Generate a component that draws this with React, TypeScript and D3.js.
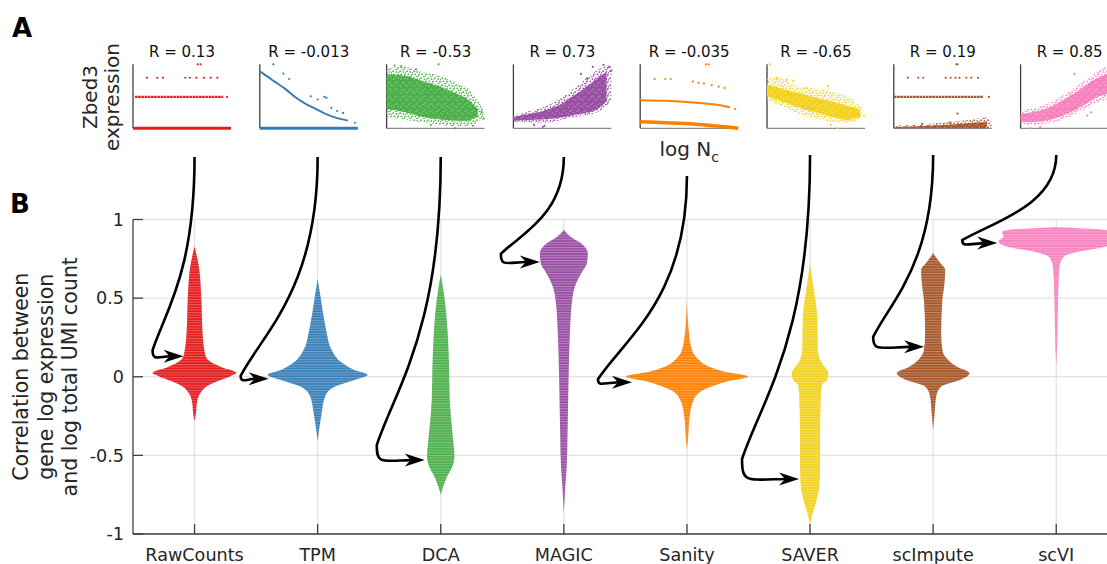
import React from 'react';
import * as d3 from 'd3';

// ---------- DATA ----------
const methods = ['RawCounts', 'TPM', 'DCA', 'MAGIC', 'Sanity', 'SAVER', 'scImpute', 'scVI'];
const colors = ['#e41a1c', '#377eb8', '#4daf4a', '#984ea3', '#ff7f00', '#f2d21f', '#a65628', '#f781bf'];
const rValues = [0.13, -0.013, -0.53, 0.73, -0.035, -0.65, 0.19, 0.85];
const rLabels = ['0.13', '-0.013', '-0.53', '0.73', '-0.035', '-0.65', '0.19', '0.85'];
const yTicks = [-1, -0.5, 0, 0.5, 1];
const yTickLabels = ['-1', '-0.5', '0', '0.5', '1'];

// violin profiles: [correlation, relative half-width]
const violinRawCounts = [[0.83, 0], [0.7, 0.07], [0.5, 0.11], [0.28, 0.13], [0.13, 0.18], [0.09, 0.28], [0.06, 0.44], [0.025, 0.68], [0.005, 0.59], [-0.03, 0.36], [-0.06, 0.2], [-0.1, 0.1], [-0.16, 0.04], [-0.24, 0.02], [-0.28, 0]];
const violinTPM = [[0.62, 0], [0.49, 0.054], [0.38, 0.098], [0.28, 0.146], [0.17, 0.228], [0.09, 0.39], [0.045, 0.585], [0.013, 0.813], [-0.02, 0.6], [-0.06, 0.29], [-0.125, 0.12], [-0.23, 0.065], [-0.36, 0.016], [-0.41, 0]];
const violinDCA = [[0.65, 0], [0.49, 0.065], [0.32, 0.106], [0.065, 0.135], [-0.146, 0.146], [-0.316, 0.179], [-0.44, 0.211], [-0.506, 0.223], [-0.57, 0.19], [-0.63, 0.109], [-0.697, 0.041], [-0.75, 0]];
const violinMAGIC = [[0.935, 0], [0.89, 0.109], [0.85, 0.272], [0.785, 0.39], [0.72, 0.374], [0.66, 0.285], [0.573, 0.179], [0.49, 0.135], [0.277, 0.098], [0.065, 0.081], [-0.146, 0.07], [-0.357, 0.06], [-0.57, 0.046], [-0.697, 0.024], [-0.865, 0]];
const violinSanity = [[0.49, 0], [0.277, 0.033], [0.17, 0.081], [0.108, 0.19], [0.065, 0.353], [0.034, 0.597], [0.002, 0.99], [-0.03, 0.65], [-0.083, 0.272], [-0.146, 0.109], [-0.25, 0.044], [-0.4, 0.016], [-0.46, 0]];
const violinSAVER = [[0.72, 0], [0.573, 0.054], [0.38, 0.117], [0.17, 0.127], [0.087, 0.19], [0.055, 0.252], [0.024, 0.298], [-0.02, 0.276], [-0.05, 0.195], [-0.146, 0.174], [-0.357, 0.163], [-0.57, 0.163], [-0.697, 0.151], [-0.78, 0.109], [-0.866, 0.044], [-0.94, 0]];
const violinScImpute = [[0.785, 0], [0.73, 0.102], [0.68, 0.195], [0.595, 0.184], [0.49, 0.15], [0.277, 0.13], [0.17, 0.15], [0.108, 0.239], [0.065, 0.379], [0.023, 0.59], [-0.02, 0.434], [-0.06, 0.135], [-0.125, 0.049], [-0.23, 0.024], [-0.336, 0]];
const violinScVI = [[0.95, 0], [0.935, 0.75], [0.923, 0.88], [0.89, 0.857], [0.86, 0.938], [0.827, 0.797], [0.796, 0.374], [0.764, 0.125], [0.7, 0.054], [0.49, 0.029], [0.277, 0.02], [0.065, 0]];
const violins = [violinRawCounts, violinTPM, violinDCA, violinMAGIC, violinSanity, violinSAVER, violinScImpute, violinScVI];

// top scatter panels (normalised log Nc on x, normalised expression on y)
// rows: [y, xStart, xEnd]; dots: [x, y]; clouds: [x, yLow, yHigh]; curves: [x, y]
const rawRows = [[0, 0, 1], [0.49, 0.02, 0.92]];
const rawDots = [[0.96, 0.49], [0.143, 0.79], [0.248, 0.79], [0.306, 0.79], [0.534, 0.79], [0.579, 0.79], [0.646, 0.79], [0.724, 0.79], [0.793, 0.79], [0.861, 0.79], [0.66, 1.0], [0.69, 1.0]];

const tpmRows = [[0, 0, 1]];
const tpmCurve = [[0, 0.89], [0.087, 0.8], [0.155, 0.725], [0.257, 0.62], [0.36, 0.49], [0.46, 0.39], [0.56, 0.31], [0.665, 0.23], [0.767, 0.17], [0.9, 0.12]];
const tpmDots = [[0.138, 1.0], [0.24, 0.855], [0.3, 0.77], [0.52, 0.5], [0.59, 0.45], [0.66, 0.49], [0.68, 0.476], [0.73, 0.32], [0.79, 0.27], [0.85, 0.24], [0.97, 0.087]];

const dcaOuter = [[0.0, 0.18, 0.93], [0.19, 0.13, 0.96], [0.36, 0.1, 0.88], [0.53, 0.06, 0.83], [0.7, 0.03, 0.72], [0.83, 0.04, 0.62], [0.94, 0.1, 0.41], [0.99, 0.2, 0.3]];
const dcaCore = [[0.0, 0.3, 0.85], [0.19, 0.25, 0.82], [0.36, 0.18, 0.74], [0.53, 0.14, 0.66], [0.7, 0.12, 0.55], [0.83, 0.12, 0.45], [0.93, 0.18, 0.3]];
const dcaDots = [[0.53, 1.0], [0.08, 0.98], [0.15, 0.97], [0.3, 0.92], [0.97, 0.25], [0.99, 0.15], [0.7, 0.0], [0.45, 0.05], [0.88, 0.04]];

const magicOuter = [[0, 0.1, 0.2], [0.317, 0.08, 0.34], [0.486, 0.13, 0.47], [0.656, 0.18, 0.67], [0.83, 0.23, 0.88], [0.96, 0.36, 0.98], [1.0, 0.45, 0.95]];
const magicCore = [[0, 0.12, 0.18], [0.317, 0.14, 0.28], [0.486, 0.17, 0.38], [0.656, 0.22, 0.55], [0.83, 0.28, 0.75], [0.95, 0.42, 0.88]];
const magicDots = [[0.21, 0.05], [0.317, 0.04], [0.3, 0.02], [0.69, 0.85], [0.81, 0.96], [0.98, 0.96], [0.92, 0.99], [1.0, 0.9], [0.75, 0.78]];

const sanityLower = [[0, 0.103], [0.265, 0.087], [0.54, 0.067], [0.745, 0.04], [0.915, 0.016], [1.0, 0.0]];
const sanityUpper = [[0, 0.44], [0.265, 0.43], [0.54, 0.405], [0.745, 0.375], [0.915, 0.33]];
const sanityDots = [[0.97, 0.3], [0.147, 0.77], [0.255, 0.77], [0.31, 0.77], [0.537, 0.73], [0.595, 0.71], [0.65, 0.7], [0.73, 0.675], [0.8, 0.65], [0.86, 0.63], [0.67, 1.0], [0.7, 1.0]];

const saverOuter = [[0, 0.44, 0.77], [0.1, 0.38, 0.8], [0.32, 0.23, 0.65], [0.49, 0.155, 0.62], [0.66, 0.1, 0.57], [0.83, 0.08, 0.49], [0.97, 0.15, 0.32]];
const saverCore = [[0, 0.5, 0.68], [0.32, 0.33, 0.55], [0.49, 0.25, 0.48], [0.66, 0.18, 0.42], [0.83, 0.13, 0.35], [0.95, 0.18, 0.3]];
const saverDots = [[0.03, 1.0], [0.1, 0.79], [0.2, 0.76], [0.27, 0.74], [0.4, 0.63], [0.62, 0.66], [0.72, 0.0], [0.65, 0.05], [0.88, 0.3], [0.99, 0.2]];

const scImputeRows = [[0.49, 0, 0.91]];
const scImputeOuter = [[0, 0, 0.04], [0.3, 0, 0.06], [0.5, 0, 0.09], [0.7, 0, 0.12], [0.85, 0, 0.15], [0.95, 0.0, 0.17], [1.0, 0.02, 0.1]];
const scImputeCore = [[0, 0, 0.02], [0.3, 0, 0.035], [0.5, 0, 0.05], [0.7, 0, 0.07], [0.85, 0, 0.09], [0.95, 0.01, 0.1]];
const scImputeDots = [[0.97, 0.49], [0.143, 0.79], [0.25, 0.79], [0.3, 0.79], [0.53, 0.79], [0.58, 0.79], [0.63, 0.79], [0.67, 0.79], [0.74, 0.79], [0.79, 0.79], [0.86, 0.79], [0.64, 1.0], [0.65, 1.0], [0.65, 0.23], [0.29, 0.07], [0.57, 0.09]];

const scviOuter = [[0, 0.05, 0.28], [0.12, 0.05, 0.31], [0.29, 0.08, 0.39], [0.46, 0.15, 0.54], [0.63, 0.28, 0.72], [0.8, 0.41, 0.9], [0.9, 0.46, 0.98], [1, 0.5, 1.0]];
const scviCore = [[0, 0.1, 0.22], [0.12, 0.1, 0.25], [0.29, 0.13, 0.32], [0.46, 0.22, 0.46], [0.63, 0.35, 0.63], [0.8, 0.5, 0.8], [0.92, 0.55, 0.86], [1, 0.6, 0.9]];
const scviDots = [[0.1, 0.0], [0.2, 0.02], [0.68, 0.2], [0.72, 0.25], [0.55, 0.85]];

const panels = [
  { rows: rawRows, dots: rawDots },
  { rows: tpmRows, curves: [tpmCurve], dots: tpmDots },
  { outer: dcaOuter, core: dcaCore, dots: dcaDots },
  { outer: magicOuter, core: magicCore, dots: magicDots },
  { bands: [sanityLower], curves: [sanityUpper], dots: sanityDots },
  { outer: saverOuter, core: saverCore, dots: saverDots },
  { rows: scImputeRows, outer: scImputeOuter, core: scImputeCore, dots: scImputeDots },
  { outer: scviOuter, core: scviCore, dots: scviDots },
];

// ---------- LAYOUT ----------
const W = 1107, H = 564;
const FONT = 'DejaVu Sans, sans-serif';
const TXT = '#262626';
const plotLeft = 133, plotTop = 219.5, plotBottom = 534, catStep = 123.1;
const panelLeft0 = 133, panelStep = 126.8, panelW = 98, panelTop = 64.3, panelBottom = 128.3;
const arrowStartY = [157, 157, 157, 157, 176, 155, 155, 155];
const arrowTipGap = [11, 49, 16, 24, 55, 11, 9, 59];
const arrowLeftDx = [31, 28, 48, 39, 34, 57, 51, 35];
const arrowLeftDy = [6, 3, 15, 8, 3, 20, 10, 3];
// speckle positions inside a pattern tile (texture only)
const sparseSpots = [[0.3, 0.4], [3.6, 1.2], [1.5, 3.6], [5.0, 4.0], [2.9, 6.0], [6.1, 1.9], [4.2, 6.4]];
const denseHoles = [[1.2, 1.6], [4.4, 4.6], [5.8, 0.6], [2.6, 5.8]];

export default function App() {
  const yScale = d3.scaleLinear().domain([-1, 1]).range([plotBottom, plotTop]);
  const xScale = d3.scaleLinear().domain([0.5, 8.5]).range([plotLeft, plotLeft + 8 * catStep]);
  const wScale = d3.scaleLinear().domain([0, 1]).range([0, catStep / 2]);

  const violinPath = (data: number[][], cx: number) =>
    d3.area<number[]>()
      .y((d) => yScale(d[0]))
      .x0((d) => cx - wScale(d[1]))
      .x1((d) => cx + wScale(d[1]))
      .curve(d3.curveMonotoneY)(data) || '';

  const arrows = methods.map((m, i) => {
    const cx = xScale(i + 1);
    const S = { x: cx, y: arrowStartY[i] };
    const T = { x: cx - arrowTipGap[i], y: yScale(rValues[i]) };
    const L = { x: T.x - arrowLeftDx[i], y: T.y - arrowLeftDy[i] };
    const dy = L.y - S.y;
    const p = d3.path();
    p.moveTo(S.x, S.y);
    p.bezierCurveTo(S.x, S.y + 0.6 * dy, L.x + 0.3 * (S.x - L.x), L.y - 0.2 * dy, L.x, L.y);
    p.bezierCurveTo(L.x, T.y + 4, L.x + 4, T.y + 1, T.x - 14, T.y);
    const head = `M${T.x},${T.y}L${T.x - 20},${T.y - 6.5}L${T.x - 14},${T.y}L${T.x - 20},${T.y + 6.5}Z`;
    return { line: p.toString(), head };
  });

  return (
    <svg width={W} height={H} style={{ position: 'absolute', left: 0, top: 0, background: '#fff' }} fontFamily={FONT}>
      <defs>
        <pattern id="stripes" width={6} height={2.6} patternUnits="userSpaceOnUse">
          <rect x={0} y={0} width={6} height={1} fill="#fff" opacity={0.3} />
        </pattern>
        {colors.map((c, i) => (
          <pattern key={'sp' + i} id={`sparse${i}`} width={7} height={7} patternUnits="userSpaceOnUse">
            {sparseSpots.map((s, k) => <rect key={k} x={s[0]} y={s[1]} width={1.6} height={1.6} fill={c} />)}
          </pattern>
        ))}
        {colors.map((c, i) => (
          <pattern key={'dn' + i} id={`dense${i}`} width={7} height={7} patternUnits="userSpaceOnUse">
            <rect x={0} y={0} width={7} height={7} fill={c} />
            {denseHoles.map((s, k) => <rect key={k} x={s[0]} y={s[1]} width={1} height={1} fill="#fff" opacity={0.55} />)}
          </pattern>
        ))}
        <clipPath id="plotclip"><rect x={0} y={0} width={W} height={H} /></clipPath>
      </defs>

      {/* panel letters */}
      <text x={12} y={37} fontSize={26} fontWeight="bold" fill="#000">A</text>
      <text x={10} y={213} fontSize={26} fontWeight="bold" fill="#000">B</text>

      {/* ---------- Panel A ---------- */}
      <g>
        <text transform={`translate(97,97) rotate(-90)`} textAnchor="middle" fontSize={20} fill={TXT}>Zbed3</text>
        <text transform={`translate(118.5,97) rotate(-90)`} textAnchor="middle" fontSize={20} fill={TXT}>expression</text>
        <text x={panelLeft0 + 4 * panelStep + panelW / 2} y={156} textAnchor="middle" fontSize={20} fill={TXT}>
          log N<tspan dy={6} fontSize={14}>c</tspan>
        </text>
        {panels.map((pn: any, i) => {
          const left = panelLeft0 + i * panelStep;
          const sx = d3.scaleLinear().domain([0, 1]).range([left, left + panelW]);
          const sy = d3.scaleLinear().domain([0, 1]).range([panelBottom, panelTop]);
          const c = colors[i];
          const cloud = d3.area<number[]>().x((d) => sx(d[0])).y0((d) => sy(d[1])).y1((d) => sy(d[2])).curve(d3.curveCatmullRom);
          const line = d3.line<number[]>().x((d) => sx(d[0])).y((d) => sy(d[1])).curve(d3.curveCatmullRom);
          return (
            <g key={i}>
              <text x={left + panelW / 2} y={57} textAnchor="middle" fontSize={15} fill="#111">{`R = ${rLabels[i]}`}</text>
              <line x1={left} x2={left + panelW} y1={panelBottom} y2={panelBottom} stroke="#8a8a8a" strokeWidth={1.3} />
              <line x1={left} x2={left} y1={panelTop} y2={panelBottom} stroke="#404040" strokeWidth={1.3} />
              {pn.outer && <path d={cloud(pn.outer) || ''} fill={`url(#sparse${i})`} />}
              {pn.core && <path d={cloud(pn.core) || ''} fill={`url(#dense${i})`} />}
              {pn.rows && pn.rows.map((r: number[], k: number) => (
                <line key={k} x1={sx(r[1])} x2={sx(r[2])} y1={sy(r[0])} y2={sy(r[0])} stroke={c}
                  strokeWidth={r[0] === 0 ? 3 : 2.2} strokeDasharray={r[0] === 0 ? undefined : '2.6 0.6'} />
              ))}
              {pn.bands && pn.bands.map((b: number[][], k: number) => (
                <path key={k} d={line(b) || ''} fill="none" stroke={c} strokeWidth={3.5} />
              ))}
              {pn.curves && pn.curves.map((b: number[][], k: number) => (
                <path key={k} d={line(b) || ''} fill="none" stroke={c} strokeWidth={2} />
              ))}
              {pn.dots && pn.dots.map((d: number[], k: number) => (
                <circle key={k} cx={sx(d[0])} cy={sy(d[1])} r={1.1} fill={c} />
              ))}
            </g>
          );
        })}
      </g>

      {/* ---------- Panel B ---------- */}
      <g clipPath="url(#plotclip)">
        {yTicks.map((t) => (
          <line key={'gy' + t} x1={plotLeft} x2={W} y1={yScale(t)} y2={yScale(t)} stroke="#e3e3e3" strokeWidth={1.3} />
        ))}
        {methods.map((m, i) => (
          <line key={'gx' + m} x1={xScale(i + 1)} x2={xScale(i + 1)} y1={plotTop} y2={plotBottom} stroke="#e3e3e3" strokeWidth={1.3} />
        ))}
        {violins.map((v, i) => {
          const d = violinPath(v, xScale(i + 1));
          return (
            <g key={'v' + i}>
              <path d={d} fill={colors[i]} />
              <path d={d} fill="url(#stripes)" />
            </g>
          );
        })}
        <line x1={plotLeft} x2={plotLeft} y1={plotTop} y2={plotBottom} stroke="#404040" strokeWidth={1.3} />
        <line x1={plotLeft} x2={W} y1={plotBottom} y2={plotBottom} stroke="#404040" strokeWidth={1.3} />
        {yTicks.map((t, k) => (
          <g key={'yt' + t}>
            <line x1={plotLeft} x2={plotLeft + 10} y1={yScale(t)} y2={yScale(t)} stroke="#404040" strokeWidth={1.3} />
            <text x={124} y={yScale(t)} dy="0.35em" textAnchor="end" fontSize={17.6} fill={TXT}>{yTickLabels[k]}</text>
          </g>
        ))}
        {methods.map((m, i) => (
          <g key={'xt' + m}>
            <line x1={xScale(i + 1)} x2={xScale(i + 1)} y1={plotBottom} y2={plotBottom - 10} stroke="#404040" strokeWidth={1.3} />
            <text x={xScale(i + 1)} y={560.5} textAnchor="middle" fontSize={17.6} fill={TXT}>{m}</text>
          </g>
        ))}
        <text transform={`translate(28.3,${yScale(0)}) rotate(-90)`} textAnchor="middle" fontSize={20.5} fill={TXT}>Correlation between</text>
        <text transform={`translate(52.8,${yScale(0)}) rotate(-90)`} textAnchor="middle" fontSize={20.5} fill={TXT}>gene log expression</text>
        <text transform={`translate(77.3,${yScale(0)}) rotate(-90)`} textAnchor="middle" fontSize={20.5} fill={TXT}>and log total UMI count</text>
      </g>

      {arrows.map((a, i) => (
        <g key={'a' + i}>
          <path d={a.line} fill="none" stroke="#000" strokeWidth={2.6} />
          <path d={a.head} fill="#000" />
        </g>
      ))}
    </svg>
  );
}
